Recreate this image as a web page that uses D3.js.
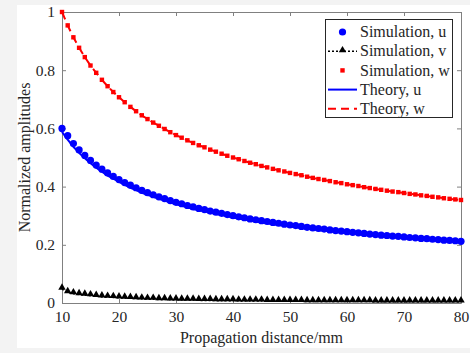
<!DOCTYPE html>
<html><head><meta charset="utf-8">
<script src="https://cdn.jsdelivr.net/npm/d3@7"></script>
<style>body{margin:0;background:#fff}svg{display:block}svg text{font-family:"Liberation Serif","Times New Roman",serif !important;fill:#262626}</style>
</head><body><svg id="c" width="470" height="353"></svg>
<script>
const distance = d3.range(10, 81); // 10..80 mm, step 1
const simU = [0.600,0.575,0.548,0.526,0.507,0.490,0.474,0.460,0.447,0.435,
0.424,0.414,0.405,0.396,0.387,0.379,0.372,0.365,0.359,0.352,
0.346,0.341,0.335,0.330,0.325,0.321,0.316,0.312,0.308,0.304,
0.300,0.296,0.293,0.289,0.286,0.283,0.280,0.277,0.274,0.271,
0.268,0.266,0.263,0.260,0.258,0.256,0.254,0.251,0.249,0.247,
0.245,0.243,0.241,0.239,0.237,0.235,0.233,0.232,0.230,0.229,
0.227,0.225,0.224,0.222,0.221,0.219,0.218,0.216,0.215,0.214,0.212];
const simV = [0.048,0.036,0.032,0.029,0.027,0.025,0.023,0.021,0.020,0.019,
0.018,0.017,0.016,0.015,0.014,0.013,0.013,0.012,0.012,0.011,
0.011,0.010,0.010,0.010,0.009,0.009,0.009,0.008,0.008,0.008,
0.008,0.007,0.007,0.007,0.007,0.007,0.006,0.006,0.006,0.006,
0.006,0.006,0.006,0.005,0.005,0.005,0.005,0.005,0.005,0.005,
0.005,0.005,0.005,0.005,0.005,0.004,0.004,0.004,0.004,0.004,
0.004,0.004,0.004,0.004,0.004,0.004,0.004,0.004,0.004,0.004,0.004];
const simW = [1.000,0.954,0.913,0.877,0.845,0.816,0.791,0.767,0.745,0.725,
0.707,0.690,0.674,0.659,0.645,0.632,0.620,0.609,0.598,0.587,
0.577,0.568,0.559,0.550,0.542,0.535,0.527,0.520,0.513,0.506,
0.500,0.494,0.488,0.482,0.477,0.471,0.466,0.461,0.456,0.452,
0.447,0.443,0.439,0.434,0.430,0.426,0.423,0.419,0.415,0.412,
0.408,0.405,0.402,0.398,0.395,0.392,0.389,0.386,0.383,0.381,
0.378,0.375,0.373,0.370,0.368,0.365,0.363,0.360,0.358,0.356,0.354];
const theoryU = [0.588,0.561,0.537,0.516,0.497,0.480,0.465,0.451,0.438,0.427,
0.416,0.406,0.396,0.388,0.379,0.372,0.365,0.358,0.352,0.345,
0.339,0.334,0.329,0.323,0.319,0.315,0.310,0.306,0.302,0.298,
0.294,0.290,0.287,0.283,0.280,0.277,0.274,0.271,0.268,0.266,
0.263,0.260,0.258,0.255,0.253,0.250,0.249,0.246,0.244,0.242,
0.240,0.238,0.236,0.234,0.232,0.230,0.229,0.227,0.225,0.224,
0.222,0.221,0.219,0.218,0.216,0.215,0.213,0.212,0.211,0.209,0.208];
const theoryW = [1.000,0.954,0.913,0.877,0.845,0.816,0.791,0.767,0.745,0.725,
0.707,0.690,0.674,0.659,0.645,0.632,0.620,0.609,0.598,0.587,
0.577,0.568,0.559,0.550,0.542,0.535,0.527,0.520,0.513,0.506,
0.500,0.494,0.488,0.482,0.477,0.471,0.466,0.461,0.456,0.452,
0.447,0.443,0.439,0.434,0.430,0.426,0.423,0.419,0.415,0.412,
0.408,0.405,0.402,0.398,0.395,0.392,0.389,0.386,0.383,0.381,
0.378,0.375,0.373,0.370,0.368,0.365,0.363,0.360,0.358,0.356,0.354];
const xTicks = [10,20,30,40,50,60,70,80];
const yTicks = [0,0.2,0.4,0.6,0.8,1];
const legendLabels = ["Simulation, u","Simulation, v","Simulation, w","Theory, u","Theory, w"];

const FONT = '"Liberation Serif","Times New Roman",serif';
const svg = d3.select("#c");
svg.append("rect").attr("width",470).attr("height",353).attr("fill","#f3f3f3");
svg.append("rect").attr("x",17).attr("y",5).attr("width",453).attr("height",343).attr("fill","#fff");

const L=62,R=461,T=12,B=303;
const x = d3.scaleLinear().domain([10,80]).range([L,R]);
const y = d3.scaleLinear().domain([0,1]).range([B,T]);
const axisCol="#808080";

const gx = svg.append("g").attr("transform",`translate(0,${B})`)
  .call(d3.axisBottom(x).tickValues(xTicks).tickSizeInner(-4).tickSizeOuter(0).tickPadding(8).tickFormat(d3.format("d")));
const gxt = svg.append("g").attr("transform",`translate(0,${T})`)
  .call(d3.axisTop(x).tickValues(xTicks).tickSizeInner(-4).tickSizeOuter(0).tickFormat(""));
const gy = svg.append("g").attr("transform",`translate(${L},0)`)
  .call(d3.axisLeft(y).tickValues(yTicks).tickSizeInner(-4).tickSizeOuter(0).tickPadding(7).tickFormat(d=>d3.format("")(d)));
const gyr = svg.append("g").attr("transform",`translate(${R},0)`)
  .call(d3.axisRight(y).tickValues(yTicks).tickSizeInner(-4).tickSizeOuter(0).tickFormat(""));
[gx,gxt,gy,gyr].forEach(g=>{
  g.attr("font-family",FONT).attr("font-size",15.5);
  g.selectAll("path").attr("stroke",axisCol);
  g.selectAll("line").attr("stroke",axisCol);
  g.selectAll("text").style("font-family",FONT).style("font-size","15.5px").attr("fill","#262626");
});
gx.selectAll("text").attr("dy","0.71em");

const pts = distance.map((d,i)=>({x:d,u:simU[i],v:simV[i],w:simW[i],tu:theoryU[i],tw:theoryW[i]}));
const line = k => d3.line().x(d=>x(d.x)).y(d=>y(d[k]));

svg.append("path").datum(pts).attr("d",line("tw")).attr("fill","none").attr("stroke","#ff0000").attr("stroke-width",2).attr("stroke-dasharray","8,5");
svg.append("path").datum(pts).attr("d",line("tu")).attr("fill","none").attr("stroke","#0000ff").attr("stroke-width",2);
svg.append("path").datum(pts).attr("d",line("v")).attr("fill","none").attr("stroke","#000").attr("stroke-width",1.5).attr("stroke-dasharray","2,2");

svg.append("g").selectAll("rect").data(pts).join("rect")
  .attr("x",d=>x(d.x)-2.2).attr("y",d=>y(d.w)-2.2).attr("width",4.4).attr("height",4.4).attr("fill","#ff0000");
svg.append("g").selectAll("circle").data(pts).join("circle")
  .attr("cx",d=>x(d.x)).attr("cy",d=>y(d.u)).attr("r",3.6).attr("fill","#0000ff");
const tri = d3.symbol().type(d3.symbolTriangle).size(24);
svg.append("g").selectAll("path").data(pts).join("path")
  .attr("transform",d=>`translate(${x(d.x)},${y(d.v)-1.5})`).attr("d",tri).attr("fill","#000");

svg.append("text").attr("x",(L+R)/2).attr("y",343).attr("text-anchor","middle").style("font-family",FONT).attr("font-size",16).text("Propagation distance/mm");
svg.append("text").attr("transform",`translate(30,${(T+B)/2}) rotate(-90)`).attr("text-anchor","middle").style("font-family",FONT).attr("font-size",16).text("Normalized amplitudes");

const lg = svg.append("g");
lg.append("rect").attr("x",325.5).attr("y",19.5).attr("width",127).attr("height",98).attr("fill","#fff").attr("stroke","#262626").attr("stroke-width",1);
const rowY = i => 32 + i*19.2;
const x0=328, x1=357, xm=(x0+x1)/2;
legendLabels.forEach((t,i)=>{
  lg.append("text").attr("x",360).attr("y",rowY(i)).attr("dy","0.33em").style("font-family",FONT).attr("font-size",16).text(t);
});
lg.append("circle").attr("cx",xm).attr("cy",rowY(0)).attr("r",3.6).attr("fill","#0000ff");
lg.append("line").attr("x1",x0).attr("x2",x1).attr("y1",rowY(1)).attr("y2",rowY(1)).attr("stroke","#000").attr("stroke-width",1.5).attr("stroke-dasharray","2,2");
lg.append("path").attr("transform",`translate(${xm},${rowY(1)-1})`).attr("d",tri).attr("fill","#000");
lg.append("rect").attr("x",xm-2.2).attr("y",rowY(2)-2.2).attr("width",4.4).attr("height",4.4).attr("fill","#ff0000");
lg.append("line").attr("x1",x0).attr("x2",x1).attr("y1",rowY(3)).attr("y2",rowY(3)).attr("stroke","#0000ff").attr("stroke-width",2);
lg.append("line").attr("x1",x0).attr("x2",x1).attr("y1",rowY(4)).attr("y2",rowY(4)).attr("stroke","#ff0000").attr("stroke-width",2).attr("stroke-dasharray","8,5");
</script></body></html>
